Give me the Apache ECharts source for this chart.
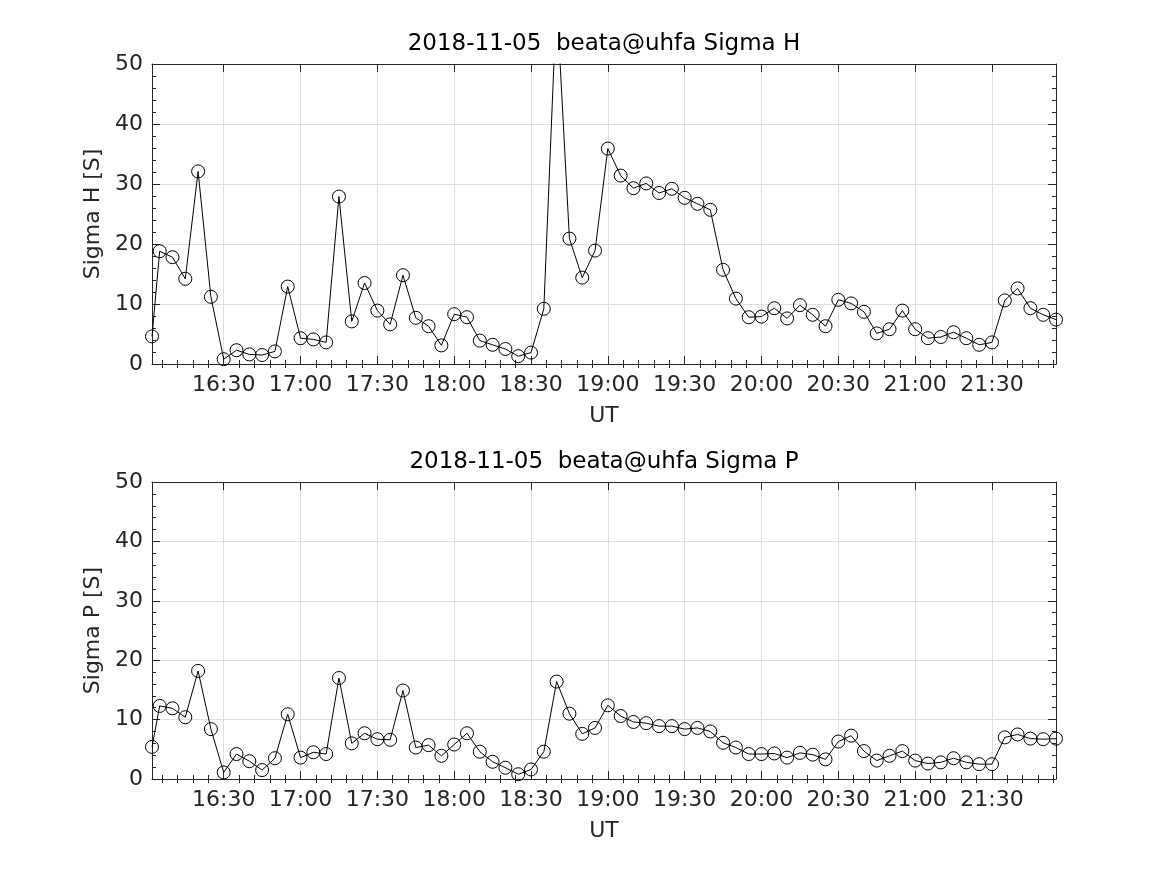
<!DOCTYPE html>
<html>
<head>
<meta charset="utf-8">
<script src="https://cdn.jsdelivr.net/npm/echarts@6/dist/echarts.min.js"></script>
<style>html,body{margin:0;padding:0;background:#fff}#c{width:1167px;height:875px}</style>
</head>
<body>
<div id="c"></div>
<script>
const times = ['16:02','16:05','16:10','16:15','16:20','16:25','16:30','16:35','16:40','16:45','16:50','16:55',
'17:00','17:05','17:10','17:15','17:20','17:25','17:30','17:35','17:40','17:45','17:50','17:55',
'18:00','18:05','18:10','18:15','18:20','18:25','18:30','18:35','18:40','18:45','18:50','18:55',
'19:00','19:05','19:10','19:15','19:20','19:25','19:30','19:35','19:40','19:45','19:50','19:55',
'20:00','20:05','20:10','20:15','20:20','20:25','20:30','20:35','20:40','20:45','20:50','20:55',
'21:00','21:05','21:10','21:15','21:20','21:25','21:30','21:35','21:40','21:45','21:50','21:55'];
const sigmaH = [4.6,18.8,17.8,14.2,32.1,11.2,0.8,2.3,1.6,1.5,2.1,12.9,
4.3,4.1,3.6,27.9,7.1,13.5,8.9,6.6,14.8,7.7,6.3,3.1,
8.3,7.8,3.9,3.2,2.5,1.3,1.9,9.2,61,20.9,14.4,18.9,
35.9,31.4,29.3,30.1,28.5,29.2,27.7,26.7,25.7,15.7,10.9,7.8,
7.9,9.3,7.6,9.8,8.2,6.3,10.7,10.1,8.7,5.1,5.8,8.9,
5.8,4.3,4.5,5.3,4.3,3.2,3.6,10.6,12.6,9.3,8.2,7.4];
const sigmaP = [5.4,12.3,11.9,10.4,18.2,8.4,1.1,4.2,3.0,1.5,3.5,10.9,
3.6,4.5,4.2,17.0,6.0,7.7,6.7,6.6,14.9,5.3,5.7,3.9,
5.8,7.7,4.6,2.9,1.9,0.8,1.6,4.6,16.4,11.0,7.6,8.6,
12.4,10.6,9.6,9.4,8.9,8.9,8.4,8.6,8.0,6.1,5.3,4.2,
4.2,4.3,3.6,4.4,4.1,3.3,6.3,7.3,4.7,3.1,3.9,4.7,
3.1,2.6,2.8,3.5,2.8,2.5,2.5,7.0,7.5,6.8,6.7,6.8];
const xTickLabels = ['16:30','17:00','17:30','18:00','18:30','19:00','19:30','20:00','20:30','21:00','21:30'];
const xStart = '16:02', xEnd = '21:55';
const yTicks = [0,10,20,30,40,50];
const titles = ['2018-11-05  beata@uhfa Sigma H','2018-11-05  beata@uhfa Sigma P'];
const yNames = ['Sigma H [S]','Sigma P [S]'];

function toMin(s){const p=s.split(':');return (+p[0])*60+(+p[1]);}
function fmt(v){const h=Math.floor(v/60), m=Math.round(v-h*60);return h+':'+(m<10?'0':'')+m;}
const xMin = toMin(xStart), xMax = toMin(xEnd);
const majors = xTickLabels.map(toMin);
const minors = [];
for (let v = majors[0]-30; v <= xMax; v += 6) { if (v > xMin && v < xMax && (v % 30) !== 0) minors.push(v); }

const FONT = 'DejaVu Sans';
const TXT = '#262626';
const GRIDC = '#dfdfdf';
const grids = [{left:152, width:904, top:64, height:300},{left:152, width:904, top:482, height:297}];

const xAxes = [], yAxes = [], series = [], titleArr = [];
const dataSets = [sigmaH, sigmaP];
grids.forEach((g, gi) => {
  const base = {gridIndex: gi, type: 'value', min: xMin, max: xMax};
  xAxes.push(Object.assign({}, base, {
    position: 'bottom',
    axisLine: {show: true, onZero: false, lineStyle: {color: TXT, width: 1}},
    axisTick: {show: true, inside: true, length: 8, customValues: majors, lineStyle: {color: TXT}},
    axisLabel: {show: true, customValues: majors, formatter: fmt, fontSize: 22, fontFamily: FONT, color: TXT, margin: 10},
    splitLine: {show: true, lineStyle: {color: GRIDC, width: 1}},
    name: 'UT', nameLocation: 'middle', nameGap: 41,
    nameTextStyle: {fontSize: 22, fontFamily: FONT, color: TXT}
  }));
  xAxes.push(Object.assign({}, base, {
    position: 'bottom', axisLine: {show: false},
    axisTick: {show: true, inside: true, length: 4, customValues: minors, lineStyle: {color: TXT}},
    axisLabel: {show: false}, splitLine: {show: false}
  }));
  xAxes.push(Object.assign({}, base, {
    position: 'top', axisLine: {show: true, onZero: false, lineStyle: {color: TXT, width: 1}},
    axisTick: {show: true, inside: true, length: 8, customValues: majors, lineStyle: {color: TXT}},
    axisLabel: {show: false}, splitLine: {show: false}
  }));
  xAxes.push(Object.assign({}, base, {
    position: 'top', axisLine: {show: false},
    axisTick: {show: true, inside: true, length: 4, customValues: minors, lineStyle: {color: TXT}},
    axisLabel: {show: false}, splitLine: {show: false}
  }));
  const ybase = {gridIndex: gi, type: 'value', min: yTicks[0], max: yTicks[yTicks.length-1], interval: yTicks[1]-yTicks[0]};
  yAxes.push(Object.assign({}, ybase, {
    position: 'left',
    axisLine: {show: true, onZero: false, lineStyle: {color: TXT, width: 1}},
    axisTick: {show: true, inside: true, length: 8, lineStyle: {color: TXT}},
    minorTick: {show: true, splitNumber: 5, length: 4, lineStyle: {color: TXT}},
    axisLabel: {show: true, fontSize: 22, fontFamily: FONT, color: TXT, margin: 9},
    splitLine: {show: true, lineStyle: {color: GRIDC, width: 1}},
    name: yNames[gi], nameLocation: 'middle', nameGap: 41, nameRotate: 90,
    nameTextStyle: {fontSize: 22, fontFamily: FONT, color: TXT}
  }));
  yAxes.push(Object.assign({}, ybase, {
    position: 'right',
    axisLine: {show: true, onZero: false, lineStyle: {color: TXT, width: 1}},
    axisTick: {show: true, inside: true, length: 8, lineStyle: {color: TXT}},
    minorTick: {show: true, splitNumber: 5, length: 4, lineStyle: {color: TXT}},
    axisLabel: {show: false}, splitLine: {show: false}
  }));
  series.push({
    type: 'line', xAxisIndex: gi*4, yAxisIndex: gi*2,
    data: times.map((t, i) => [toMin(t), dataSets[gi][i]]),
    symbol: 'circle', symbolSize: 13, showAllSymbol: true, clip: true,
    lineStyle: {color: '#000', width: 1},
    itemStyle: {color: 'rgba(0,0,0,0)', borderColor: '#000', borderWidth: 1},
    emphasis: {disabled: true}, animation: false, z: 5
  });
  titleArr.push({
    text: titles[gi], left: 604, top: g.top - 31, textAlign: 'center', padding: 0,
    textStyle: {fontSize: 23, fontWeight: 'normal', fontFamily: FONT, color: '#000'}
  });
});

const chart = echarts.init(document.getElementById('c'), null, {renderer: 'canvas'});
chart.setOption({
  animation: false,
  backgroundColor: '#fff',
  title: titleArr,
  grid: grids,
  xAxis: xAxes,
  yAxis: yAxes,
  series: series
});
</script>
</body>
</html>
